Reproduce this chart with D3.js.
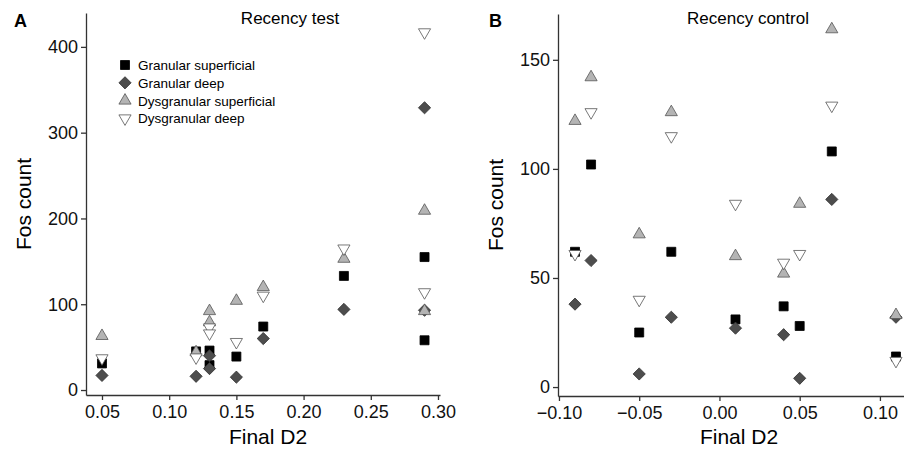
<!DOCTYPE html>
<html>
<head>
<meta charset="utf-8">
<script src="https://cdn.jsdelivr.net/npm/d3@7"></script>
<style>
  body { margin: 0; background: #fff; }
  svg text { font-family: "Liberation Sans", Arial, sans-serif; }
  .axis path, .axis line { stroke: #333; stroke-width: 1.3; }
  .axis text { font-size: 18px; fill: #111; font-family: "Liberation Sans", Arial, sans-serif; }
</style>
</head>
<body>
<div id="chart"></div>
<script>
var width = 904,
    height = 451;

// panel A - recency test
var xA = [0.05, 0.12, 0.13, 0.13, 0.15, 0.17, 0.23, 0.29, 0.29];
var granSupA = [31, 45, 46, 29, 39, 74, 133, 155, 58];
var granDeepA = [17, 16, 40, 25, 15, 60, 94, 329, 93];
var dysSupA = [63, 44, 92, 79, 104, 120, 153, 209, 92];
var dysDeepA = [37, 38, 73, 66, 56, 110, 165, 417, 114];
var xTicksA = [0.05, 0.10, 0.15, 0.20, 0.25, 0.30];
var yTicksA = [0, 100, 200, 300, 400];

// panel B - recency control
var xB = [-0.09, -0.08, -0.05, -0.03, 0.01, 0.04, 0.05, 0.07, 0.11];
var granSupB = [62, 102, 25, 62, 31, 37, 28, 108, 14];
var granDeepB = [38, 58, 6, 32, 27, 24, 4, 86, 32];
var dysSupB = [122, 142, 70, 126, 60, 52, 84, 164, 33];
var dysDeepB = [61, 126, 40, 115, 84, 57, 61, 129, 12];
var xTicksB = [-0.10, -0.05, 0.00, 0.05, 0.10];
var yTicksB = [0, 50, 100, 150];

var seriesNames = ["Granular superficial", "Granular deep", "Dysgranular superficial", "Dysgranular deep"];

var svg = d3.select("#chart").append("svg")
    .attr("width", width)
    .attr("height", height);

var markers = [
    { path: d3.symbol().type(d3.symbolSquare).size(81)(), rot: 0, fill: "#000", stroke: "#000" },
    { path: d3.symbol().type(d3.symbolSquare).size(74)(), rot: 45, fill: "#4d4d4d", stroke: "#333" },
    { path: d3.symbol().type(d3.symbolTriangle).size(64)(), rot: 0, fill: "#b4b4b4", stroke: "#555" },
    { path: d3.symbol().type(d3.symbolTriangle).size(64)(), rot: 180, fill: "#fff", stroke: "#555" }
];

var fmt = function(d) {
    return d3.format(".2f")(d).replace("-", "\u2212");
};

function drawPanel(p) {
    var x = d3.scaleLinear().domain(p.xDomain).range([p.left, p.right]);
    var y = d3.scaleLinear().domain(p.yDomain).range([p.bottom, p.top]);

    svg.append("g")
        .attr("class", "axis")
        .attr("transform", "translate(0," + p.bottom + ")")
        .call(d3.axisBottom(x).tickValues(p.xTicks).tickFormat(fmt).tickSize(5).tickSizeOuter(0).tickPadding(5));

    svg.append("g")
        .attr("class", "axis")
        .attr("transform", "translate(" + p.left + ",0)")
        .call(d3.axisLeft(y).tickValues(p.yTicks).tickSize(5).tickSizeOuter(0).tickPadding(3));

    var series = [p.s1, p.s2, p.s3, p.s4];
    series.forEach(function(vals, i) {
        var m = markers[i];
        svg.append("g").selectAll("path")
            .data(vals)
            .enter().append("path")
            .attr("d", m.path)
            .attr("transform", function(d, j) {
                return "translate(" + x(p.xs[j]) + "," + y(d) + ") rotate(" + m.rot + ")";
            })
            .attr("fill", m.fill)
            .attr("stroke", m.stroke)
            .attr("stroke-width", 0.8);
    });

    svg.append("text")
        .attr("x", p.titleX)
        .attr("y", 24)
        .attr("text-anchor", "middle")
        .attr("font-size", 17)
        .text(p.title);

    svg.append("text")
        .attr("x", p.letterX)
        .attr("y", 27)
        .attr("font-size", 18)
        .attr("font-weight", "bold")
        .text(p.letter);

    svg.append("text")
        .attr("x", p.labelX)
        .attr("y", 444)
        .attr("text-anchor", "middle")
        .attr("font-size", 21)
        .text("Final D2");

    svg.append("text")
        .attr("transform", "translate(" + (p.left - 55) + "," + ((p.top + p.bottom) / 2) + ") rotate(-90)")
        .attr("text-anchor", "middle")
        .attr("font-size", 21)
        .text("Fos count");
}

drawPanel({
    xDomain: [0.0381, 0.3015], yDomain: [-5.8, 439.5],
    left: 86, right: 440, top: 13, bottom: 395,
    xTicks: xTicksA, yTicks: yTicksA,
    xs: xA, s1: granSupA, s2: granDeepA, s3: dysSupA, s4: dysDeepA,
    title: "Recency test", titleX: 290, letter: "A", letterX: 14, labelX: 268
});

drawPanel({
    xDomain: [-0.1006, 0.115], yDomain: [-4.1, 171],
    left: 558, right: 904, top: 14, bottom: 396,
    xTicks: xTicksB, yTicks: yTicksB,
    xs: xB, s1: granSupB, s2: granDeepB, s3: dysSupB, s4: dysDeepB,
    title: "Recency control", titleX: 748, letter: "B", letterX: 489, labelX: 739
});

// legend in panel A
var legend = svg.append("g").attr("transform", "translate(125,65)");
seriesNames.forEach(function(name, i) {
    var m = markers[i];
    var row = legend.append("g").attr("transform", "translate(0," + (i * 17.8) + ")");
    row.append("path")
        .attr("d", m.path)
        .attr("transform", "rotate(" + m.rot + ")")
        .attr("fill", m.fill)
        .attr("stroke", m.stroke)
        .attr("stroke-width", 0.8);
    row.append("text")
        .attr("x", 13)
        .attr("y", 5)
        .attr("font-size", 13.5)
        .text(name);
});
</script>
</body>
</html>
